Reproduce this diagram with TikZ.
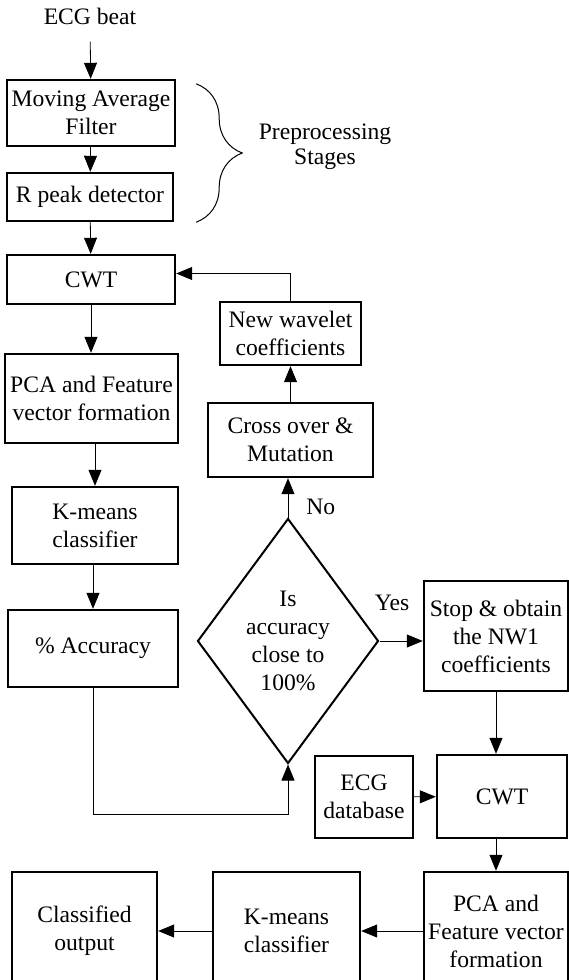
\documentclass[tikz,border=0pt]{standalone}
\usepackage{fontspec}
\setmainfont{Liberation Serif}
\usepackage{tikz}
\usetikzlibrary{positioning}
\usetikzlibrary{shapes.geometric,decorations.pathreplacing,calc,arrows.meta}
\tikzset{
	-{Triangle[length=8pt,width=6.5pt]}, line width=1pt,
	box/.style = {rectangle, draw, line width=1.2pt, align=center, inner sep=2pt,
		font=\fontsize{11.8}{14}\selectfont},
	test/.style = {diamond, draw, line width=1pt, align=center, inner sep=0pt,
		shape aspect=0.74, font=\fontsize{11.8}{14}\selectfont},
	lbl/.style = {inner sep=0pt, align=center, font=\fontsize{11.8}{14}\selectfont},
}

\begin{document}
\begin{tikzpicture}[x=0.5pt, y=-0.5pt]
	\useasboundingbox (0,0) rectangle (568,980);
	% left column
	\node (beat) [lbl] at (90,16) {ECG beat};
	\node (maf) [box, minimum width=84pt, minimum height=33pt] at (91,113) {Moving Average\\Filter};
	\node (rpk) [box, minimum width=83pt, minimum height=24pt] at (90,197) {R peak detector};
	\node (cwt) [box, minimum width=84pt, minimum height=24.5pt] at (91,279.5) {CWT};
	\node (pca) [box, minimum width=86.5pt, minimum height=44.5pt] at (91.5,398.5) {PCA and Feature\\vector formation};
	\node (km) [box, minimum width=83pt, minimum height=38.5pt] at (95,525.5) {K-means\\classifier};
	\node (acc) [box, minimum width=85pt, minimum height=38.5pt] at (93,648.5) {\% Accuracy};
	% genetic loop
	\node (neww) [box, minimum width=70.5pt, minimum height=31.5pt] at (290.5,333.5) {New wavelet\\coefficients};
	\node (cross) [box, minimum width=82.5pt, minimum height=37pt] at (290.5,440) {Cross over \&\\Mutation};
	\node (dec) [test, minimum width=90.5pt, minimum height=122.5pt] at (288,641) {Is\\accuracy\\close to\\100\%};
	% right column and bottom row
	\node (stop) [box, minimum width=72pt, minimum height=55pt] at (496,636) {Stop \& obtain\\the NW1\\coefficients};
	\node (cwtb) [box, minimum width=65pt, minimum height=41.5pt] at (502,796.5) {CWT};
	\node (db) [box, minimum width=49pt, minimum height=41pt] at (364,797) {ECG\\database};
	\node (pcab) [box, minimum width=72pt, minimum height=59pt] at (496,931) {PCA and\\Feature vector\\formation};
	\node (kmb) [box, minimum width=73.5pt, minimum height=59pt] at (286.5,931) {K-means\\classifier};
	\node (out) [box, minimum width=72.5pt, minimum height=59pt] at (84.5,931) {Classified\\output};

	\coordinate (bt) at ($(maf.north east)+(20,5)$);
	\coordinate (bb) at (bt |- rpk.south);
	\draw [-, line width=0.5pt, decorate, decoration={brace, amplitude=23pt}] (bt) -- (bb);
	\node (pre) [lbl, font=\fontsize{11.8}{12.5}\selectfont] at (325,147) {Preprocessing\\Stages};

	\draw [shorten <=8.5pt] (beat) -- (maf);
	\draw (maf) -- (rpk);
	\draw (rpk) -- (cwt);
	\draw (cwt) -- (cwt |- pca.north);
	\draw (km.north |- pca.south) -- (km);
	\draw (km.south -| acc) -- (acc);
	\draw (acc.south) -- ++(0,126) -| (dec);
	\draw (dec.north) -- (dec.north |- cross.south)
		node [lbl, at start, above right=1pt and 9pt] {No};
	\draw (cross) -- (neww);
	\draw (neww) |- ([yshift=3pt]cwt.east);
	\draw (dec.east) -- (dec.east -| stop.west)
		node [lbl, midway, above=15pt, xshift=-4.5pt] {Yes};
	\draw (stop) -- (stop |- cwtb.north);
	\draw (db) -- (cwtb);
	\draw (cwtb.south -| pcab) -- (pcab);
	\draw (pcab) -- (kmb);
	\draw (kmb) -- (out);
\end{tikzpicture}
\end{document}
